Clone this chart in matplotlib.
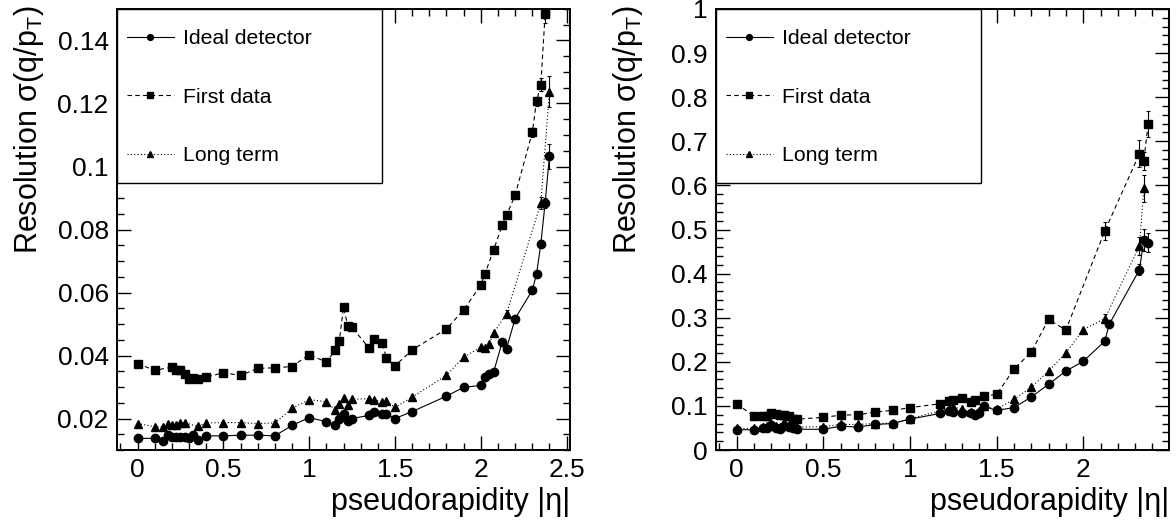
# -*- coding: utf-8 -*-
"""
Track q/pT resolution versus pseudorapidity, two panels
(ideal detector, first data, long term alignment scenarios).
"""
import matplotlib
matplotlib.use("Agg")
import matplotlib.pyplot as plt
from matplotlib.patches import Rectangle
from matplotlib.ticker import MultipleLocator, FormatStrFormatter

plt.rcParams['font.family'] = ['Liberation Sans', 'DejaVu Sans']
plt.rcParams['mathtext.default'] = 'regular'

# ---- left panel data -------------------------------------------------
eta_l_ideal = [0, 0.1, 0.15, 0.175, 0.2, 0.225, 0.25, 0.275, 0.3, 0.325, 0.35,
               0.4, 0.5, 0.6, 0.7, 0.8, 0.9, 1.0,
               1.1, 1.15, 1.175, 1.2, 1.225, 1.25,
               1.35, 1.375, 1.425, 1.45, 1.5, 1.6,
               1.8, 1.9, 2.0, 2.025, 2.05, 2.075,
               2.125, 2.15, 2.2, 2.3, 2.325, 2.35, 2.375, 2.4]
res_l_ideal = [0.0137, 0.0137, 0.0130, 0.0147, 0.0140, 0.0141, 0.0141, 0.0141, 0.0138, 0.0148, 0.0132,
               0.0145, 0.0145, 0.0147, 0.0147, 0.0145, 0.0178, 0.0203,
               0.0190, 0.0179, 0.0197, 0.0213, 0.0193, 0.0200,
               0.0210, 0.0221, 0.0214, 0.0214, 0.0200, 0.0222,
               0.0271, 0.0299, 0.0305, 0.0332, 0.0340, 0.0348,
               0.0443, 0.0422, 0.0517, 0.0607, 0.0658, 0.0755, 0.0884, 0.1033]
err_l_ideal_tail = [0.0006, 0.0008, 0.0012, 0.0015, 0.004]

eta_l_first = [0, 0.1, 0.2, 0.225, 0.25, 0.275, 0.3, 0.325, 0.35,
               0.4, 0.5, 0.6, 0.7, 0.8, 0.9, 1.0,
               1.1, 1.15, 1.175, 1.2, 1.225, 1.25,
               1.35, 1.375, 1.425, 1.45, 1.5, 1.6,
               1.8, 1.9, 2.0, 2.025, 2.075,
               2.125, 2.15, 2.2, 2.3, 2.325, 2.35, 2.375]
res_l_first = [0.0374, 0.0353, 0.0363, 0.0355, 0.0355, 0.0342, 0.0324, 0.0330, 0.0324,
               0.0332, 0.0345, 0.0337, 0.0359, 0.0361, 0.0365, 0.0403,
               0.0379, 0.0416, 0.0445, 0.0553, 0.0495, 0.0489,
               0.0423, 0.0453, 0.0440, 0.0393, 0.0367, 0.0418,
               0.0484, 0.0545, 0.0623, 0.0660, 0.0736,
               0.0813, 0.0845, 0.0909, 0.1108, 0.1207, 0.1260, 0.1484]
err_l_first_tail = [0.001, 0.001, 0.0012, 0.0015, 0.0015, 0.002, 0.003]

eta_l_long = [0, 0.1, 0.15, 0.175, 0.2, 0.225, 0.25, 0.275, 0.35,
              0.4, 0.5, 0.6, 0.7, 0.8, 0.9, 1.0,
              1.1, 1.15, 1.175, 1.2, 1.225, 1.25,
              1.35, 1.375, 1.425, 1.45, 1.5, 1.6,
              1.8, 1.9, 2.0, 2.025, 2.05, 2.075,
              2.15, 2.35, 2.4]
res_l_long = [0.0184, 0.0174, 0.0173, 0.0181, 0.0178, 0.0178, 0.0187, 0.0187, 0.0175,
              0.0186, 0.0187, 0.0187, 0.0184, 0.0186, 0.0232, 0.0260,
              0.0253, 0.0228, 0.0247, 0.0265, 0.0242, 0.0261,
              0.0263, 0.0260, 0.0253, 0.0255, 0.0235, 0.0268,
              0.0337, 0.0395, 0.0426, 0.0424, 0.0437, 0.0472,
              0.0533, 0.0884, 0.1238]
err_l_long_tail = [0.001, 0.002, 0.005]

# ---- right panel data ------------------------------------------------
eta_r_ideal = [0, 0.1, 0.15, 0.175, 0.2, 0.225, 0.25, 0.275, 0.3, 0.325, 0.35,
               0.5, 0.6, 0.7, 0.8, 0.9, 1.0,
               1.175, 1.225, 1.25, 1.3, 1.35, 1.375, 1.4, 1.425,
               1.5, 1.6, 1.7, 1.8, 1.9, 2.0,
               2.125, 2.15, 2.325, 2.35, 2.375]
res_r_ideal = [0.046, 0.046, 0.049, 0.051, 0.056, 0.051, 0.048, 0.055, 0.052, 0.049, 0.047,
               0.047, 0.054, 0.052, 0.058, 0.060, 0.070,
               0.083, 0.089, 0.086, 0.085, 0.083, 0.079, 0.085, 0.099,
               0.090, 0.096, 0.120, 0.149, 0.179, 0.201,
               0.247, 0.285, 0.409, 0.477, 0.470]
err_r_ideal_tail = [0.012, 0.025, 0.022]

eta_r_first = [0, 0.1, 0.15, 0.175, 0.2, 0.225, 0.25, 0.275, 0.3, 0.325, 0.35,
               0.5, 0.6, 0.7, 0.8, 0.9, 1.0,
               1.175, 1.225, 1.25, 1.3, 1.35, 1.375, 1.425,
               1.5, 1.6, 1.7, 1.8, 1.9,
               2.125, 2.325, 2.35, 2.375]
res_r_first = [0.105, 0.076, 0.076, 0.077, 0.084, 0.081, 0.080, 0.080, 0.077, 0.071, 0.070,
               0.074, 0.079, 0.080, 0.086, 0.090, 0.096,
               0.105, 0.110, 0.114, 0.118, 0.109, 0.114, 0.122,
               0.126, 0.183, 0.222, 0.296, 0.272,
               0.497, 0.672, 0.656, 0.739]
err_r_first_tail = [0.02, 0.03, 0.02, 0.03]

eta_r_long = [0, 0.1, 0.15, 0.175, 0.2, 0.225, 0.25, 0.275, 0.3, 0.325, 0.35,
              0.5, 0.6, 0.7, 0.8, 0.9, 1.0,
              1.175, 1.225, 1.25, 1.3, 1.35, 1.4, 1.425,
              1.5, 1.6, 1.7, 1.8, 1.9, 2.0,
              2.125, 2.325, 2.35]
res_r_long = [0.049, 0.049, 0.052, 0.054, 0.058, 0.055, 0.053, 0.064, 0.057, 0.054, 0.052,
              0.053, 0.058, 0.058, 0.060, 0.061, 0.071,
              0.089, 0.094, 0.098, 0.092, 0.086, 0.089, 0.100,
              0.092, 0.115, 0.142, 0.179, 0.220, 0.273,
              0.298, 0.463, 0.593]
err_r_long_tail = [0.01, 0.02, 0.03]

labels = ["Ideal detector", "First data", "Long term"]


def draw_series(ax, x, y, err_tail, marker, ms, ls, label):
    """Line with markers, plus error bars on the last few points."""
    line, = ax.plot(x, y, color='black', lw=0.8, marker=marker, ms=ms,
                    label=label, zorder=3)
    if isinstance(ls, tuple):
        line.set_dashes(ls)
    else:
        line.set_linestyle(ls)
    n = len(err_tail)
    ax.errorbar(x[-n:], y[-n:], yerr=err_tail, fmt='none', ecolor='black',
                elinewidth=0.8, capsize=1.5, capthick=0.8, zorder=3)
    return line


def style_axes(ax, xlim, ylim, ymajor, yminor):
    """ROOT-like frame: inward ticks on all four sides."""
    ax.set_xlim(*xlim)
    ax.set_ylim(*ylim)
    ax.xaxis.set_major_locator(MultipleLocator(0.5))
    ax.xaxis.set_minor_locator(MultipleLocator(0.1))
    ax.yaxis.set_major_locator(MultipleLocator(ymajor))
    ax.yaxis.set_minor_locator(MultipleLocator(yminor))
    ax.xaxis.set_major_formatter(FormatStrFormatter('%g'))
    ax.yaxis.set_major_formatter(FormatStrFormatter('%g'))
    ax.tick_params(which='both', direction='in', top=True, right=True,
                   labelsize=19, width=1.0)
    ax.tick_params(which='major', length=10, pad=6)
    ax.tick_params(which='minor', length=5)
    for sp in ax.spines.values():
        sp.set_linewidth(1.4)

    ax.set_xlabel("pseudorapidity |η|", fontsize=22, va='baseline', ha='right')
    ax.xaxis.set_label_coords(1.0, -0.136)
    ax.set_ylabel("Resolution σ(q/p$_T$)", fontsize=22, va='baseline', ha='right')
    ax.yaxis.set_label_coords(-0.176, 1.009)

    # white legend box sitting on top of the frame
    ax.add_patch(Rectangle((0, 0.605), 0.585, 0.395, transform=ax.transAxes,
                           facecolor='white', edgecolor='black', lw=1.0,
                           zorder=4.5, clip_on=False))
    ax.legend(loc='center left', bbox_to_anchor=(0.022, 0.80), frameon=False,
              fontsize=15.3, handlelength=2.2, handletextpad=0.45,
              labelspacing=1.85, borderpad=0, borderaxespad=0,
              markerscale=0.7)


fig = plt.figure(figsize=(11.76, 5.2), dpi=100)
ax1 = fig.add_axes([0.0995, 0.1346, 0.3852, 0.8481])
ax2 = fig.add_axes([0.6088, 0.1346, 0.3852, 0.8481])

draw_series(ax1, eta_l_ideal, res_l_ideal, err_l_ideal_tail, 'o', 6, '-', labels[0])
draw_series(ax1, eta_l_first, res_l_first, err_l_first_tail, 's', 6, (4, 3), labels[1])
draw_series(ax1, eta_l_long, res_l_long, err_l_long_tail, '^', 6, (1, 2), labels[2])
style_axes(ax1, (-0.12, 2.52), (0.01, 0.15), 0.02, 0.005)

draw_series(ax2, eta_r_ideal, res_r_ideal, err_r_ideal_tail, 'o', 6, '-', labels[0])
draw_series(ax2, eta_r_first, res_r_first, err_r_first_tail, 's', 6, (4, 3), labels[1])
draw_series(ax2, eta_r_long, res_r_long, err_r_long_tail, '^', 6, (1, 2), labels[2])
style_axes(ax2, (-0.12, 2.495), (0, 1), 0.1, 0.02)

fig.savefig('out.png', dpi=100)
